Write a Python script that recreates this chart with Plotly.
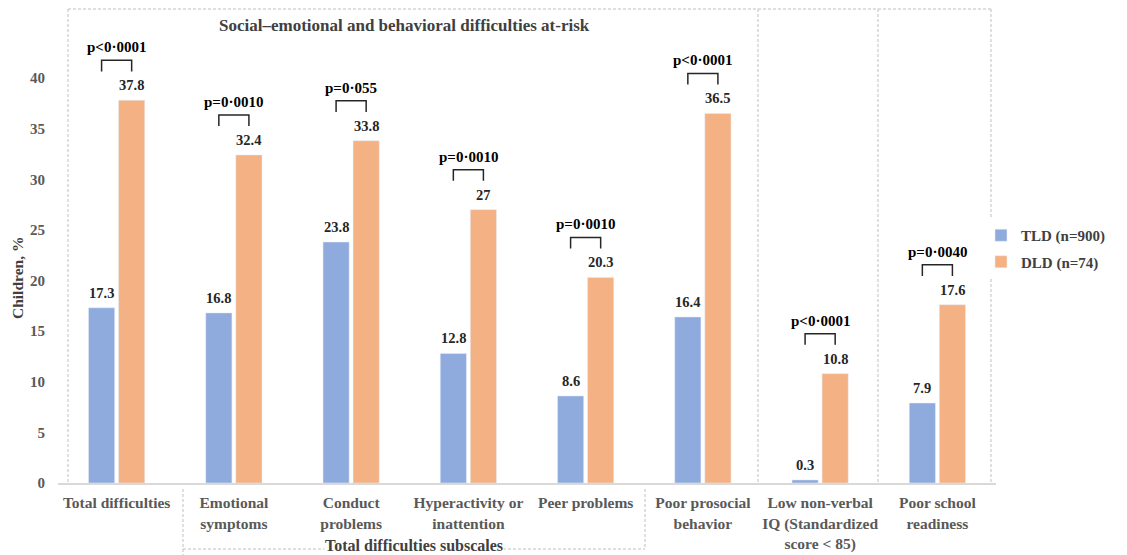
import plotly.graph_objects as go

categories = ["Total difficulties", "Emotional<br>symptoms", "Conduct<br>problems",
              "Hyperactivity or<br>inattention", "Peer problems", "Poor prosocial<br>behavior",
              "Low non-verbal<br>IQ (Standardized<br>score < 85)", "Poor school<br>readiness"]
tld = [17.3, 16.8, 23.8, 12.8, 8.6, 16.4, 0.3, 7.9]
dld = [37.8, 32.4, 33.8, 27, 20.3, 36.5, 10.8, 17.6]
pvals = ["p<0·0001", "p=0·0010", "p=0·055", "p=0·0010", "p=0·0010", "p<0·0001", "p<0·0001", "p=0·0040"]
yticks = [0, 5, 10, 15, 20, 25, 30, 35, 40]

FONT = "Liberation Serif"
BLUE = "#8FAADC"
ORANGE = "#F4B183"
idx = list(range(len(categories)))

# page body has an 8px margin; work in screen pixels and convert
OFF = 8
FW, FH = 1127 - OFF, 555 - OFF
L, R, T, B = 58, 996, 9, 483          # plot area in screen pixels
W, H = R - L, B - T
def px(x):
    return (x - L) / W
def py(y):
    return (B - y) / H

fig = go.Figure()
fig.add_trace(go.Bar(x=idx, y=tld, name="<b>TLD (n=900)</b>", marker_color=BLUE,
                     cliponaxis=False, legendgroup="a"))
fig.add_trace(go.Bar(x=idx, y=dld, name="<b>DLD (n=74)</b>", marker_color=ORANGE,
                     cliponaxis=False, legendgroup="b"))

shapes = []
annotations = []
off = (1 - 0.487) / 4  # bar center offset from category center
vfont = dict(family=FONT, size=14.5, color="#262626")
for i, (t, d, p) in enumerate(zip(tld, dld, pvals)):
    annotations.append(dict(x=i - off, y=t, xref="x", yref="y", text=f"<b>{t}</b>",
                            showarrow=False, xanchor="center", yanchor="bottom", yshift=5, font=vfont))
    annotations.append(dict(x=i + off, y=d, xref="x", yref="y", text=f"<b>{d}</b>",
                            showarrow=False, xanchor="center", yanchor="bottom", yshift=5, font=vfont))
    top = d + 3.95
    leg = top - 1.1
    x0, x1 = i - off, i + off
    shapes.append(dict(type="path", xref="x", yref="y",
                       path=f"M{x0},{leg} L{x0},{top} L{x1},{top} L{x1},{leg}",
                       line=dict(color="#262626", width=1.5)))
    annotations.append(dict(x=i, y=top, xref="x", yref="y", text=f"<b>{p}</b>",
                            showarrow=False, xanchor="center", yanchor="bottom", yshift=3,
                            font=dict(family=FONT, size=15, color="#000000")))

dash = dict(color="#BFBFBF", width=1, dash="3px,2px")
shapes.append(dict(type="line", xref="paper", yref="paper", x0=px(68), x1=px(991), y0=py(9), y1=py(9), line=dash))
for xv in [68, 758, 878, 991]:
    shapes.append(dict(type="line", xref="paper", yref="paper", x0=px(xv), x1=px(xv), y0=py(9), y1=py(482), line=dash))
shapes.append(dict(type="line", xref="paper", yref="paper", x0=px(183), x1=px(183), y0=py(489), y1=py(556), line=dash))
shapes.append(dict(type="line", xref="paper", yref="paper", x0=px(645), x1=px(645), y0=py(489), y1=py(549), line=dash))
shapes.append(dict(type="line", xref="paper", yref="paper", x0=px(183), x1=px(645), y0=py(549), y1=py(549), line=dash))

annotations.append(dict(x=px(414), y=py(545), xref="paper", yref="paper",
                        xanchor="center", yanchor="middle",
                        text="<b>Total difficulties subscales</b>", showarrow=False,
                        bgcolor="white", borderpad=0,
                        font=dict(family=FONT, size=16, color="#404040")))
annotations.append(dict(x=px(404), y=py(25), xref="paper", yref="paper",
                        xanchor="center", yanchor="middle",
                        text="<b>Social–emotional and behavioral difficulties at-risk</b>", showarrow=False,
                        font=dict(family=FONT, size=17, color="#404040")))
annotations.append(dict(x=px(17), y=py(278), xref="paper", yref="paper",
                        xanchor="center", yanchor="middle",
                        text="<b>Children, %</b>", showarrow=False, textangle=-90,
                        font=dict(family=FONT, size=15.5, color="#404040")))

fig.update_layout(
    width=FW, height=FH,
    margin=dict(l=L - OFF, r=FW - (R - OFF), t=T - OFF, b=FH - (B - OFF)),
    plot_bgcolor="white", paper_bgcolor="white",
    barmode="group", bargap=0.487, bargroupgap=0.13,
    font=dict(family=FONT, size=14, color="#595959"),
    shapes=shapes, annotations=annotations,
    legend=dict(x=px(981), y=py(219), xanchor="left", yanchor="top",
                font=dict(family=FONT, size=15, color="#404040"),
                traceorder="grouped", tracegroupgap=4, itemwidth=30),
    xaxis=dict(tickmode="array", tickvals=idx,
               ticktext=[f"<b>{c}</b>" for c in categories],
               range=[-0.5, len(categories) - 0.5],
               showline=True, linecolor="#D9D9D9", linewidth=1.5,
               ticks="", showgrid=False, zeroline=False,
               ticklabelstandoff=5,
               tickfont=dict(family=FONT, size=15.5, color="#595959")),
    yaxis=dict(range=[0, (B - T) / 10.125], tickmode="array", tickvals=yticks,
               ticktext=[f"<b>{v}</b>" for v in yticks],
               showgrid=False, zeroline=False, showline=False, ticks="",
               ticklabelstandoff=12,
               tickfont=dict(family=FONT, size=15, color="#595959")),
)

fig.write_html("out.html")
